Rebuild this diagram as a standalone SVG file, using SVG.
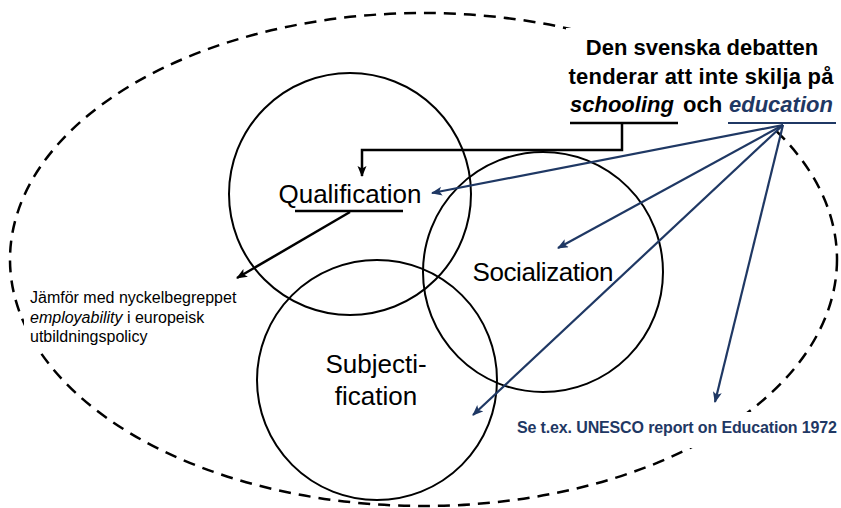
<svg xmlns="http://www.w3.org/2000/svg" width="841" height="508" viewBox="0 0 841 508">
<style>
.lbl{font-family:"Liberation Sans",Arial,sans-serif;fill:#000}
.big{font-size:26px}
.bold{font-weight:bold;font-size:22px}
.small{font-size:16px}
.blue{fill:#1f3864}
.circ{fill:none;stroke:#000;stroke-width:2}
.bk{fill:none;stroke:#000;stroke-width:2.5}
.bl{fill:none;stroke:#1f3864;stroke-width:2.2}
</style>
<defs>
<marker id="ab" markerUnits="userSpaceOnUse" markerWidth="12" markerHeight="10" refX="10" refY="4.5" orient="auto">
<path d="M0,0 L11,4.5 L0,9 L2.5,4.5 z" fill="#000"/>
</marker>
<marker id="au" markerUnits="userSpaceOnUse" markerWidth="12" markerHeight="10" refX="10" refY="4.5" orient="auto">
<path d="M0,0 L11,4.5 L0,9 L2.5,4.5 z" fill="#1f3864"/>
</marker>
</defs>
<rect width="841" height="508" fill="#fff"/>
<g id="boundary">
<ellipse cx="423.5" cy="259.5" rx="413.5" ry="246.5" fill="none" stroke="#000" stroke-width="2.5" stroke-dasharray="12 8"/>
<rect x="566" y="28" width="275" height="102" fill="#fff"/>
<rect x="24" y="286" width="225" height="63" fill="#fff"/>
<rect x="510" y="412" width="331" height="36" fill="#fff"/>
</g>
<g id="qualification">
<circle class="circ" cx="350" cy="194" r="121"/>
<text class="lbl big" x="350" y="203" text-anchor="middle">Qualification</text>
</g>
<g id="socialization">
<circle class="circ" cx="543" cy="272" r="120"/>
<text class="lbl big" x="543" y="281" text-anchor="middle" textLength="141">Socialization</text>
</g>
<g id="subjectification">
<circle class="circ" cx="377" cy="380" r="120"/>
<text class="lbl big" x="376" y="373" text-anchor="middle">Subjecti-</text>
<text class="lbl big" x="376" y="405" text-anchor="middle">fication</text>
</g>
<g id="debate-note">
<text class="lbl bold" x="702" y="55" text-anchor="middle">Den svenska debatten</text>
<text class="lbl bold" x="701" y="83.5" text-anchor="middle" textLength="265">tenderar att inte skilja på</text>
<text class="lbl bold" x="570" y="112" font-style="italic">schooling</text>
<text class="lbl bold" x="683" y="112">och</text>
<text class="lbl bold blue" x="729" y="112" font-style="italic">education</text>
</g>
<g id="employability-note">
<text class="lbl small" x="30" y="303">Jämför med nyckelbegreppet</text>
<text class="lbl small" x="30" y="323"><tspan font-style="italic">employability</tspan> i europeisk</text>
<text class="lbl small" x="30" y="342">utbildningspolicy</text>
</g>
<g id="unesco-note">
<text class="lbl small blue" x="517" y="433" font-weight="bold" textLength="320">Se t.ex. UNESCO report on Education 1972</text>
</g>
<g id="connectors">
<line class="bk" x1="570" y1="123" x2="678" y2="123"/>
<line class="bk" x1="295" y1="211" x2="403" y2="211"/>
<line class="bl" x1="728" y1="123" x2="836" y2="123" stroke-width="2.5"/>
<path class="bk" d="M622,123 V150 H362 V176" marker-end="url(#ab)"/>
<path class="bk" d="M350,212 L237,278" marker-end="url(#ab)"/>
<path class="bl" d="M783,125 L432,193" marker-end="url(#au)"/>
<path class="bl" d="M783,125 L558,248" marker-end="url(#au)"/>
<path class="bl" d="M783,125 L473,415" marker-end="url(#au)"/>
<path class="bl" d="M783,125 L715,402" marker-end="url(#au)"/>
</g>
</svg>
